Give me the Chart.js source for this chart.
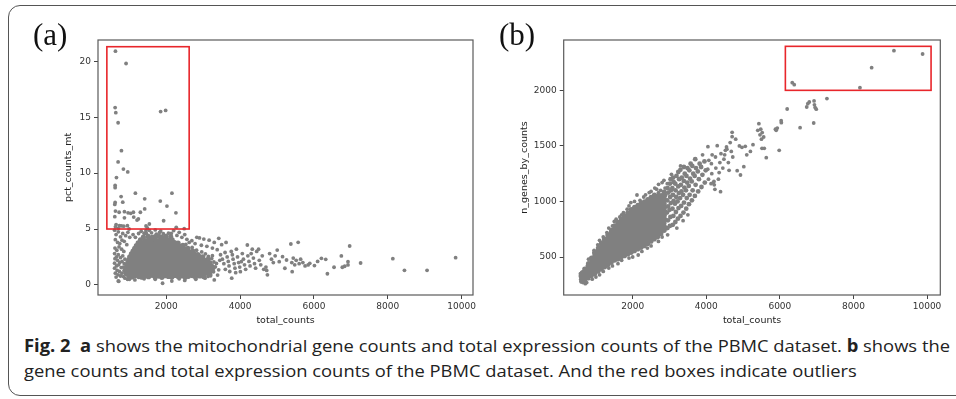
<!DOCTYPE html>
<html>
<head>
<meta charset="utf-8">
<script src="https://cdn.jsdelivr.net/npm/chart.js@4.4.1/dist/chart.umd.min.js"></script>
<style>
  body { margin: 0; width: 956px; height: 399px; overflow: hidden; background: #fff; position: relative; }
  #frame { position: absolute; left: 8px; top: 5px; width: 1000px; height: 389px; border: 1.5px solid #555; border-radius: 12px; }
  .panel { position: absolute; top: 0; }
  .tag { position: absolute; top: 19px; font-family: "Liberation Serif", "DejaVu Serif", serif; font-size: 31px; line-height: 1; color: #111; }
  #caption { position: absolute; left: 24px; top: 333px; font-family: "Open Sans", sans-serif; font-size: 17px; line-height: 25px; color: #222; white-space: nowrap; transform-origin: 0 0; }
  #caption b { font-weight: 700; }
</style>
</head>
<body>
<div id="frame"></div>
<canvas id="chartA" class="panel" width="480" height="330" style="left:0"></canvas>
<canvas id="chartB" class="panel" width="480" height="330" style="left:476px"></canvas>
<div class="tag" style="left:33px">(a)</div>
<div class="tag" style="left:499px">(b)</div>
<div id="caption">
  <div><span id="line1"><b>Fig. 2</b>&nbsp;&nbsp;<b>a</b> shows the mitochondrial gene counts and total expression counts of the PBMC dataset. <b>b</b> shows the</span></div>
  <div>gene counts and total expression counts of the PBMC dataset. And the red boxes indicate outliers</div>
</div>
<script>
// tick values
const countTicks = [2000, 4000, 6000, 8000, 10000];
const mtTicks = [0, 5, 10, 15, 20];
const geneTicks = [500, 1000, 1500, 2000];

// (a) total_counts vs pct_counts_mt
const mtDense = [
  [985,0.78],[1075,0.72],[1160,0.84],[1255,0.75],[1340,0.69],[1435,0.81],[1520,0.74],[1615,0.86],[1700,0.71],[1795,0.79],[1880,0.68],[1975,0.83],[2060,0.76],[2150,0.7],[2245,0.85],[2330,0.73],[2420,0.8],[2515,0.69],[2600,0.77],[2705,0.84],[2790,0.72],[2905,0.8],[3010,0.75],
  [915,1.02],[1010,0.96],[1100,1.05],[1190,0.98],[1285,1.03],[1370,0.95],[1465,1.06],[1550,1.0],[1645,0.97],[1730,1.04],[1825,0.99],[1910,1.07],[2005,0.95],[2090,1.02],[2185,0.98],[2270,1.05],[2365,1.0],[2450,0.96],[2545,1.04],[2630,0.99],[2725,1.06],[2810,0.97],[2905,1.03],[2990,0.98],[3085,1.05],[3180,0.96],
  [890,1.27],[960,1.22],[1055,1.3],[1145,1.24],[1235,1.28],[1330,1.21],[1415,1.26],[1510,1.3],[1595,1.23],[1690,1.27],[1775,1.2],[1870,1.29],[1955,1.25],[2050,1.22],[2135,1.3],[2230,1.24],[2315,1.27],[2410,1.21],[2495,1.28],[2590,1.25],[2675,1.22],[2770,1.29],[2855,1.26],[2950,1.2],[3040,1.28],[3135,1.23],[3240,1.3],
  [905,1.52],[1010,1.47],[1100,1.55],[1190,1.49],[1280,1.53],[1370,1.46],[1460,1.51],[1550,1.55],[1640,1.48],[1730,1.52],[1820,1.45],[1910,1.54],[2000,1.5],[2090,1.47],[2180,1.55],[2270,1.49],[2360,1.52],[2450,1.46],[2540,1.53],[2630,1.5],[2720,1.47],[2810,1.54],[2900,1.51],[2990,1.45],[3080,1.53],[3170,1.48],[3270,1.55],
  [935,1.77],[1055,1.72],[1145,1.8],[1235,1.74],[1325,1.78],[1415,1.71],[1505,1.76],[1595,1.8],[1685,1.73],[1775,1.77],[1865,1.7],[1955,1.79],[2045,1.75],[2135,1.72],[2225,1.8],[2315,1.74],[2405,1.77],[2495,1.71],[2585,1.78],[2675,1.75],[2765,1.72],[2855,1.79],[2945,1.76],[3035,1.7],[3125,1.78],[3220,1.73],
  [960,2.02],[1010,1.97],[1100,2.05],[1190,1.99],[1280,2.03],[1370,1.96],[1460,2.01],[1550,2.05],[1640,1.98],[1730,2.02],[1820,1.95],[1910,2.04],[2000,2.0],[2090,1.97],[2180,2.05],[2270,1.99],[2360,2.02],[2450,1.96],[2540,2.03],[2630,2.0],[2720,1.97],[2810,2.04],[2900,2.01],[2990,1.95],[3080,2.03],[3180,1.98],
  [985,2.27],[1055,2.22],[1145,2.3],[1235,2.24],[1325,2.28],[1415,2.21],[1505,2.26],[1595,2.3],[1685,2.23],[1775,2.27],[1865,2.2],[1955,2.29],[2045,2.25],[2135,2.22],[2225,2.3],[2315,2.24],[2405,2.27],[2495,2.21],[2585,2.28],[2675,2.25],[2765,2.22],[2855,2.29],[2945,2.26],[3035,2.2],[3130,2.28],
  [1010,2.52],[1100,2.47],[1190,2.55],[1280,2.49],[1370,2.53],[1460,2.46],[1550,2.51],[1640,2.55],[1730,2.48],[1820,2.52],[1910,2.45],[2000,2.54],[2090,2.5],[2180,2.47],[2270,2.55],[2360,2.49],[2450,2.52],[2540,2.46],[2630,2.53],[2720,2.5],[2810,2.47],[2900,2.54],[2990,2.51],
  [1055,2.77],[1145,2.72],[1235,2.8],[1325,2.74],[1415,2.78],[1505,2.71],[1595,2.76],[1685,2.8],[1775,2.73],[1865,2.77],[1955,2.7],[2045,2.79],[2135,2.75],[2225,2.72],[2315,2.8],[2405,2.74],[2495,2.77],[2585,2.71],[2675,2.78],[2765,2.75],[2855,2.72],
  [1100,3.02],[1190,2.97],[1280,3.05],[1370,2.99],[1460,3.03],[1550,2.96],[1640,3.01],[1730,3.05],[1820,2.98],[1910,3.02],[2000,2.95],[2090,3.04],[2180,3.0],[2270,2.97],[2360,3.05],[2450,2.99],[2540,3.02],[2630,2.96],[2720,3.03],
  [1145,3.27],[1235,3.22],[1325,3.3],[1415,3.24],[1505,3.28],[1595,3.21],[1685,3.26],[1775,3.3],[1865,3.23],[1955,3.27],[2045,3.2],[2135,3.29],[2225,3.25],[2315,3.22],[2405,3.3],[2495,3.24],[2585,3.27],
  [1190,3.52],[1280,3.47],[1370,3.55],[1460,3.49],[1550,3.53],[1640,3.46],[1730,3.51],[1820,3.55],[1910,3.48],[2000,3.52],[2090,3.45],[2180,3.54],[2270,3.5],[2360,3.47],[2450,3.55],
  [1240,3.77],[1330,3.72],[1420,3.8],[1505,3.74],[1595,3.78],[1685,3.71],[1775,3.76],[1865,3.8],[1955,3.73],[2045,3.77],[2135,3.7],[2225,3.79],[2320,3.75],
  [1300,4.02],[1420,3.97],[1520,4.05],[1600,3.99],[1690,4.04],[1780,3.96],[1860,4.03],[1950,4.06],[2050,3.98],[2160,4.02],
  [1380,4.28],[1510,4.35],[1620,4.25],[1700,4.33],[1790,4.38],[1880,4.27],[1990,4.34],[2120,4.3]
];
const mtSparse = [
  [1460,4.6],[1600,4.66],[1730,4.55],[1820,4.7],[1920,4.58],[2060,4.62],
  [1540,4.88],[1700,4.92],[1850,4.82],[2200,4.86],
  [600,4.9],[640,4.5],[700,4.75],[760,4.3],[820,4.6],[900,4.4],[960,4.7],[620,4.05],[680,3.8],[740,3.7],[800,4.0],[860,3.9],[930,3.6],
  [610,3.3],[660,3.1],[720,3.4],[790,3.2],[850,3.0],[600,2.8],[650,2.5],[700,2.7],[760,2.45],[820,2.6],[880,2.3],[610,2.35],[680,2.2],
  [740,2.0],[800,2.1],[860,1.9],[600,1.95],[650,1.7],[710,1.8],[780,1.55],[840,1.6],[600,1.5],[670,1.3],[730,1.2],[800,1.05],[860,1.3],
  [620,1.05],[690,0.9],[760,0.8],[840,0.75],[640,0.7],[713,0.32],[880,0.6],[950,0.5],
  [700,0.35],[1000,0.5],[1150,0.45],[1400,0.55],[1900,0.15],[2150,0.35],[2500,0.4],[2800,0.5],[3300,0.45],[1700,0.5],[2350,0.55],[3050,0.6],
  [1010,4.26],[1163,4.26],[1100,4.5],[1250,4.6],[1320,4.8],[1400,4.62],[1450,4.85],[2135,4.6],[2288,4.43],[2423,4.26],[2558,4.08],
  [2693,3.96],[2828,4.26],[2900,4.2],[3017,4.1],[3161,4.0],[2350,4.7],[2500,4.5],[2620,3.8],[2780,3.7],[2950,3.55],[3100,3.45],
  [3250,3.3],[3380,3.15],[3422,4.17],[3300,3.8],[3500,3.6],[2530,3.62],[2700,3.35],[2820,3.1],[2960,2.95],[3060,2.78],[3140,2.55],
  [3230,2.36],[3290,2.05],[3330,1.62],[3280,1.18],[3200,0.82],[3130,0.76],[3360,1.92],[3420,1.35],[3390,0.88],[3450,2.2],[3250,2.62],
  [3470,2.7],[3520,2.3],[3560,1.9],[3600,1.4],[3620,3.8],[3593,2.9],[3650,2.5],[3680,2.1],[3700,1.7],[3720,1.2],[3773,0.6],[3760,3.0],
  [3790,2.7],[3810,2.3],[3840,1.9],[3860,1.5],[3880,1.1],[3900,3.2],[3930,2.5],[3960,2.0],[3990,1.6],[4007,1.19],[4034,2.08],[4060,2.8],
  [4090,2.3],[4120,1.8],[4150,1.4],[4196,3.57],[4210,2.6],[4240,2.1],[4270,1.7],[4300,2.8],[4330,3.2],[4360,2.4],[4390,1.9],[4420,1.5],
  [4450,3.0],[4500,3.2],[4520,2.2],[4560,1.8],[4600,2.6],[4640,1.4],[4700,1.6],[4720,1.3],[4740,0.9],[4800,2.8],[4850,2.3],[4900,2.0],
  [4950,2.6],[5006,3.12],[5060,2.08],[5150,2.53],[5213,1.49],[5258,2.23],
  [5375,3.66],[5411,1.19],[5400,2.0],[5440,2.4],[5480,1.8],[5520,2.2],[5573,3.81],[5600,1.9],[5640,2.3],[5700,2.0],[5760,1.7],[5843,1.79],
  [5888,1.93],[6014,1.73],[6100,2.1],[6203,2.38],[6320,2.29],[6365,1.0],[6545,1.58],[6743,2.59],[6770,1.58],[6833,1.67],[6923,2.08],
  [6923,1.79],[6968,3.48],[7265,1.96],[8138,2.35],[8453,1.31],[9065,1.31],[9839,2.44]
];
const mtOutliers = [
  [623,20.9],[911,19.8],[614,15.86],[632,15.4],[695,14.5],[1847,15.5],[1982,15.6],[785,12.0],[695,11.0],[839,10.36],[956,10.1],
  [650,9.6],[614,8.9],[614,8.7],[1163,8.2],[2153,8.2],[776,7.9],[1415,7.7],[614,7.38],[605,7.2],[821,7.4],[1838,7.5],[2018,7.05],
  [1415,6.8],[623,6.6],[722,6.5],[866,6.55],[965,6.45],[1037,6.4],[1109,6.5],[1298,6.5],[2261,6.45],[605,6.1],[866,6.0],[1118,6.07],
  [1208,5.8],[1244,5.9],[1928,5.74],[1541,5.45],[623,5.2],[731,5.3],[785,5.28],[848,5.25],[1451,5.27],[1487,5.1],[2270,5.15],
  [2486,5.03],[947,5.3],[992,5.0],[640,5.4],[700,5.05]
];

// (b) total_counts vs n_genes_by_counts
const genesDense = [
  [615,282],[628,306],[612,331],[630,352],[600,330],[660,320],[640,360],
  [695,292],[708,318],[690,345],[705,371],[698,392],
  [785,312],[798,338],[782,365],[795,392],[788,418],[800,441],
  [875,333],[888,360],[872,386],[885,412],[878,438],[890,465],[882,490],
  [965,352],[978,378],[962,405],[975,431],[968,457],[980,484],[972,510],[965,538],
  [1055,372],[1068,398],[1052,425],[1065,451],[1058,477],[1070,504],[1062,530],[1055,556],[1068,580],
  [1145,392],[1158,418],[1142,445],[1155,471],[1148,497],[1160,524],[1152,550],[1145,576],[1158,602],[1150,622],
  [1235,412],[1248,438],[1232,465],[1245,491],[1238,517],[1250,544],[1242,570],[1235,596],[1248,622],[1240,648],[1236,662],
  [1325,432],[1338,458],[1322,485],[1335,511],[1328,537],[1340,564],[1332,590],[1325,616],[1338,642],[1330,669],[1326,697],
  [1415,452],[1428,478],[1412,505],[1425,531],[1418,557],[1430,584],[1422,610],[1415,636],[1428,662],[1420,689],[1416,715],[1426,739],
  [1505,472],[1518,498],[1502,525],[1515,551],[1508,577],[1520,604],[1512,630],[1505,656],[1518,682],[1510,709],[1506,735],[1516,761],[1510,781],
  [1595,482],[1608,508],[1592,535],[1605,561],[1598,587],[1610,614],[1602,640],[1595,666],[1608,692],[1600,719],[1596,745],[1606,771],[1600,797],[1604,812],
  [1685,502],[1698,528],[1682,555],[1695,581],[1688,607],[1700,634],[1692,660],[1685,686],[1698,712],[1690,739],[1686,765],[1696,791],[1690,817],[1694,840],
  [1775,512],[1788,538],[1772,565],[1785,591],[1778,617],[1790,644],[1782,670],[1775,696],[1788,722],[1780,749],[1776,775],[1786,801],[1780,827],[1784,853],[1778,871],
  [1865,527],[1878,553],[1862,580],[1875,606],[1868,632],[1880,659],[1872,685],[1865,711],[1878,737],[1870,764],[1866,790],[1876,816],[1870,842],[1874,868],[1868,896],
  [1955,542],[1968,568],[1952,595],[1965,621],[1958,647],[1970,674],[1962,700],[1955,726],[1968,752],[1960,779],[1956,805],[1966,831],[1960,857],[1964,883],[1958,909],[1962,926],
  [2045,557],[2058,583],[2042,610],[2055,636],[2048,662],[2060,689],[2052,715],[2045,741],[2058,767],[2050,794],[2046,820],[2056,846],[2050,872],[2054,898],[2048,924],[2052,946],
  [2135,572],[2148,598],[2132,625],[2145,651],[2138,677],[2150,704],[2142,730],[2135,756],[2148,782],[2140,809],[2136,835],[2146,861],[2140,887],[2144,913],[2138,939],[2142,964],
  [2225,587],[2238,613],[2222,640],[2235,666],[2228,692],[2240,719],[2232,745],[2225,771],[2238,797],[2230,824],[2226,850],[2236,876],[2230,902],[2234,928],[2228,954],[2232,982],
  [2315,602],[2328,628],[2312,655],[2325,681],[2318,707],[2330,734],[2322,760],[2315,786],[2328,812],[2320,839],[2316,865],[2326,891],[2320,917],[2324,943],[2318,969],[2322,997],
  [2405,622],[2418,648],[2402,675],[2415,701],[2408,727],[2420,754],[2412,780],[2405,806],[2418,832],[2410,859],[2406,885],[2416,911],[2410,937],[2414,963],[2408,989],[2412,1017],
  [2495,642],[2508,668],[2492,695],[2505,721],[2498,747],[2510,774],[2502,800],[2495,826],[2508,852],[2500,879],[2496,905],[2506,931],[2500,957],[2504,983],[2498,1009],[2502,1037],
  [2585,662],[2598,688],[2582,715],[2595,741],[2588,767],[2600,794],[2592,820],[2585,846],[2598,872],[2590,899],[2586,925],[2596,951],[2590,977],[2594,1003],[2588,1029],[2592,1057],
  [2675,682],[2688,708],[2672,735],[2685,761],[2678,787],[2690,814],[2682,840],[2675,866],[2688,892],[2680,919],[2676,945],[2686,971],[2680,997],[2684,1023],[2678,1049],
  [2765,712],[2778,738],[2762,765],[2775,791],[2768,817],[2780,844],[2772,870],[2765,896],[2778,922],[2770,949],[2766,975],[2776,1001],[2770,1027],[2774,1053],
  [2855,740],[2868,770],[2852,805],[2865,840],[2858,875],[2870,910],[2862,945],[2855,980],[2868,1015],[2860,1050],[2856,1085]
];
// speckled continuation of the band, 2900-4000 counts
const genesMid = [
  [2945,760],[2958,830],[2932,900],[2962,955],[2940,1010],[2970,1080],[2950,1120],
  [3010,780],[3025,860],[3002,925],[3035,985],[3018,1040],[3040,1100],[3012,1160],[3030,1200],
  [3090,790],[3105,870],[3082,935],[3110,1005],[3095,1060],[3078,1120],[3112,1175],[3100,1215],
  [3160,815],[3175,905],[3150,980],[3182,1040],[3165,1100],[3158,1160],[3190,1230],
  [3230,845],[3245,940],[3220,1000],[3255,1075],[3238,1135],[3262,1200],[3240,1265],
  [3300,870],[3318,960],[3290,1030],[3325,1090],[3310,1150],[3335,1215],[3298,1285],
  [3380,900],[3395,990],[3370,1060],[3405,1125],[3388,1185],[3415,1250],[3392,1310],
  [3455,935],[3470,1030],[3448,1100],[3480,1170],[3462,1230],[3490,1300],
  [3530,975],[3548,1060],[3525,1140],[3560,1205],[3540,1280],[3575,1340],
  [3610,1010],[3630,1100],[3605,1180],[3645,1250],[3620,1320],
  [3690,1050],[3710,1150],[3685,1230],[3720,1300],[3700,1380],
  [3780,1090],[3800,1200],[3770,1270],[3820,1340],
  [3870,1130],[3895,1240],[3860,1310],
  [3960,1170],[3985,1280],[3950,1360]
];
const genesSparse = [
  [590,300],[650,270],[580,350],[750,270],[1000,320],[1200,370],[1450,420],[1700,470],[2000,500],[2250,550],[2500,600],[2800,680],
  [800,480],[950,560],[1050,610],[1200,680],[1300,720],[1450,780],[1550,840],[1650,860],[1750,900],[1850,930],[1950,990],[2050,1000],
  [2200,1010],[2350,1060],[2500,1090],[2650,1110],[2800,1170],[2700,1080],[2760,1100],[2880,1120],[2940,1160],[2900,1060],
  [1100,650],[1350,760],[1500,820],[1700,880],[1900,960],[2117,1058],[2300,1040],[2450,1080],[2703,1154],[2850,1190],[3054,1244],[3300,1320],[2600,1120],
  [900,300],[1100,340],[1350,400],[1600,440],[1900,490],[2150,518],[2400,580],[2700,640],[2950,700],[3200,760],[3370,827],[3500,880],[712,260],
  [3900,1420],[4045,1493],[4060,1200],[4040,1290],[4070,1370],
  [4150,1250],[4140,1340],[4160,1420],[4130,1160],
  [4235,1109],[4190,1170],[4217,1150],[4208,1180],[4260,1300],[4250,1400],[4298,1502],
  [4388,1088],[4350,1260],[4370,1350],[4400,1430],[4330,1200],
  [4450,1300],[4480,1380],[4520,1460],[4550,1490],[4560,1470],[4500,1420],[4600,1350],[4620,1280],
  [4703,1622],[4703,1583],[4650,1530],[4680,1450],[4720,1400],
  [4840,1277],[4930,1238],[5020,1313],[4970,1487],[5060,1496],[5270,1511],[4800,1560],[4900,1500],[5100,1420],[5200,1450],
  [5400,1640],[5430,1700],[5460,1600],[5480,1650],[5500,1560],[5520,1620],[5514,1478],[5577,1478],[5631,1394],[5560,1580],
  [5900,1640],[5930,1660],[5880,1650],[5982,1460],[6036,1727],[6040,1709],[6199,1832],[6550,1664],[6920,1706],
  [6730,1850],[6760,1880],[6800,1895],[6930,1905],[6940,1870],[6960,1845],[6990,1830],[7280,1926],
  [6337,2069],[6391,2051],[8177,2024],[8495,2204],[9101,2357],[9880,2327]
];

// red outlier boxes: [xFrom, xTo, yFrom, yTo] in data units
const boxA = [390, 2620, 5.0, 21.3];
const boxB = [6150, 10110, 2000, 2396];

const toXY = arr => arr.map(p => ({x: p[0], y: p[1]}));

const frameBox = {
  id: 'frameBox',
  afterDatasetsDraw(chart, args, opts) {
    const {ctx, chartArea: a, scales: {x, y}} = chart;
    const b = opts.box;
    ctx.save();
    ctx.strokeStyle = '#e8262b';
    ctx.lineWidth = 1.6;
    const x0 = x.getPixelForValue(b[0]), x1 = x.getPixelForValue(b[1]);
    const y0 = y.getPixelForValue(b[2]), y1 = y.getPixelForValue(b[3]);
    ctx.strokeRect(x0, y1, x1 - x0, y0 - y1);
    ctx.strokeStyle = '#5a5a5a';
    ctx.lineWidth = 1.2;
    ctx.strokeRect(a.left, a.top, a.width, a.height);
    ctx.restore();
  }
};

const tickFont = {family: 'DejaVu Sans', size: 9};
const titleFont = {family: 'DejaVu Sans', size: 9.5};

function panelOptions(p) {
  return {
    responsive: false,
    animation: false,
    events: [],
    layout: {padding: {left: 0, right: p.padRight, top: 40, bottom: 0}},
    plugins: {legend: {display: false}, tooltip: {enabled: false}, frameBox: {box: p.box}},
    scales: {
      x: {
        type: 'linear', position: 'bottom', min: p.xMin, max: p.xMax,
        afterFit: s => { s.height = 35; },
        afterBuildTicks: s => { s.ticks = countTicks.map(v => ({value: v})); },
        ticks: {autoSkip: false, maxRotation: 0, padding: 2, color: '#333', font: tickFont, callback: v => String(v)},
        grid: {display: true, drawOnChartArea: false, drawTicks: true, tickLength: 4, color: '#444'},
        border: {display: false},
        title: {display: true, text: 'total_counts', color: '#222', font: titleFont, padding: {top: 0, bottom: 4}}
      },
      y: {
        type: 'linear', min: p.yMin, max: p.yMax,
        afterFit: s => { s.width = p.yWidth; },
        afterBuildTicks: s => { s.ticks = p.yTicks.map(v => ({value: v})); },
        ticks: {autoSkip: false, padding: 3, color: '#333', font: tickFont, callback: v => String(v)},
        grid: {display: true, drawOnChartArea: false, drawTicks: true, tickLength: 4, color: '#444'},
        border: {display: false},
        title: {display: true, text: p.yTitle, color: '#222', font: titleFont, padding: {top: p.yTitlePad, bottom: 0}}
      }
    }
  };
}

function pointSet(points, r) {
  return {
    data: toXY(points),
    backgroundColor: '#808080',
    borderWidth: 0,
    pointRadius: r
  };
}

new Chart(document.getElementById('chartA').getContext('2d'), {
  type: 'scatter',
  data: {datasets: [pointSet(mtDense, 2.6), pointSet(mtSparse.concat(mtOutliers), 1.9)]},
  options: panelOptions({xMin: 150, xMax: 10310, yMin: -0.9, yMax: 21.9, yTicks: mtTicks, yWidth: 98, padRight: 7,
    yTitle: 'pct_counts_mt', yTitlePad: 63, box: boxA}),
  plugins: [frameBox]
});

new Chart(document.getElementById('chartB').getContext('2d'), {
  type: 'scatter',
  data: {datasets: [pointSet(genesDense, 2.6), pointSet(genesMid, 2.4), pointSet(genesSparse, 1.9)]},
  options: panelOptions({xMin: 125, xMax: 10361, yMin: 158, yMax: 2453, yTicks: geneTicks, yWidth: 87.7, padRight: 15.7,
    yTitle: 'n_genes_by_counts', yTitlePad: 43, box: boxB}),
  plugins: [frameBox]
});

function fitCaption() {
  const cap = document.getElementById('caption');
  cap.style.transform = 'none';
  const w = document.getElementById('line1').getBoundingClientRect().width;
  cap.style.transform = 'scaleX(' + (926 / w) + ')';
}
fitCaption();
if (document.fonts) document.fonts.ready.then(fitCaption);
</script>
</body>
</html>
